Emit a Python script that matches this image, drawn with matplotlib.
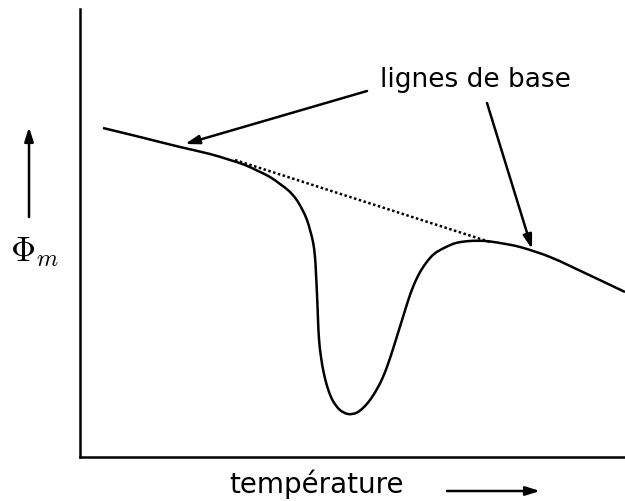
import math
import matplotlib
matplotlib.use("Agg")
import matplotlib.pyplot as plt
from matplotlib.path import Path
from matplotlib.patches import PathPatch

plt.rcParams["mathtext.fontset"] = "cm"

# Curve (x: temperature, y: heat flow, arbitrary units)
temperature = [23.5, 60.5, 100.5, 130.5, 150.5, 165.5, 178.5, 190.5, 200.5, 209.5,
               216.5, 222.5, 227.5, 230.5, 233.5, 235.5, 236.5, 237.5, 238.5, 239.5,
               241.5, 244.5, 248.5, 253.5, 260.5, 268.5, 276.5, 283.5, 290.5, 297.5,
               303.5, 308.5, 313.5, 318.5, 323.5, 328.5, 333.5, 339.5, 346.5, 354.5,
               364.5, 376.5, 390.5, 405.5, 420.5, 440.5, 470.5, 507.5, 545.5]
phi = [329, 320, 310, 303, 297, 292, 286, 280, 273, 266,
       258, 248, 237, 227, 215, 200, 183, 163, 138, 118,
       100, 83, 68, 56, 47, 43, 44, 49, 57, 68,
       80, 93, 108, 124, 140, 156, 170, 183, 194, 203,
       209, 214, 216, 216, 214, 210, 200, 183, 165]

# Baseline (dotted) endpoints
baseline_x = [155.5, 410.5]
baseline_y = [297, 215]

fig = plt.figure(figsize=(6.25, 5.02), dpi=100)
W, H = 625, 502
left, right, top, bottom = 79.5, 625, 10, 458
ax = fig.add_axes([left / W, (H - bottom) / H, (right - left) / W, (bottom - top) / H])
ax.set_xlim(0, right - left)
ax.set_ylim(0, bottom - top)
for s in ["top", "right"]:
    ax.spines[s].set_visible(False)
for s in ["left", "bottom"]:
    ax.spines[s].set_linewidth(1.8)
ax.set_xticks([])
ax.set_yticks([])

# smooth curve through the read points (chord-length Catmull-Rom as Bezier segments)
pts = list(zip(temperature, phi))
n = len(pts)

def dist(a, b):
    return math.hypot(b[0] - a[0], b[1] - a[1])

tangents = []
for i in range(n):
    a = pts[max(i - 1, 0)]
    b = pts[min(i + 1, n - 1)]
    d = dist(pts[max(i - 1, 0)], pts[i]) + dist(pts[i], pts[min(i + 1, n - 1)])
    tangents.append(((b[0] - a[0]) / d, (b[1] - a[1]) / d))

verts = [pts[0]]
codes = [Path.MOVETO]
for i in range(n - 1):
    p1, p2 = pts[i], pts[i + 1]
    h = dist(p1, p2) / 3
    t1, t2 = tangents[i], tangents[i + 1]
    verts += [(p1[0] + t1[0] * h, p1[1] + t1[1] * h),
              (p2[0] - t2[0] * h, p2[1] - t2[1] * h), p2]
    codes += [Path.CURVE4] * 3
ax.add_patch(PathPatch(Path(verts, codes), facecolor="none", edgecolor="black", lw=1.8))

ax.plot(baseline_x, baseline_y, color="black", lw=1.8, linestyle=(0, (1, 1)))

arrow = dict(arrowstyle="-|>,head_length=0.7,head_width=0.22", color="black",
             lw=1.8, shrinkA=0, shrinkB=0, mutation_scale=12)

def fp(x, y):
    return (x, H - y)

# "lignes de base" label and its arrows
fig.text(380 / W, 1 - 80 / H, "lignes de base", fontsize=19, va="center", ha="left")
ax.annotate("", xy=fp(185, 145), xycoords="figure pixels",
            xytext=fp(367, 92), textcoords="figure pixels", arrowprops=arrow)
ax.annotate("", xy=fp(532, 250), xycoords="figure pixels",
            xytext=fp(487, 104), textcoords="figure pixels", arrowprops=arrow)

# axis labels with arrows
fig.text(35 / W, 1 - 252 / H, r"$\Phi_m$", fontsize=25, ha="center", va="center")
ax.annotate("", xy=fp(29, 128), xycoords="figure pixels",
            xytext=fp(29, 218), textcoords="figure pixels", arrowprops=arrow)
fig.text(316 / W, 1 - 484 / H, "température", fontsize=20, ha="center", va="center")
ax.annotate("", xy=fp(540, 492), xycoords="figure pixels",
            xytext=fp(447, 492), textcoords="figure pixels", arrowprops=arrow)

fig.savefig("out.png", dpi=100)
